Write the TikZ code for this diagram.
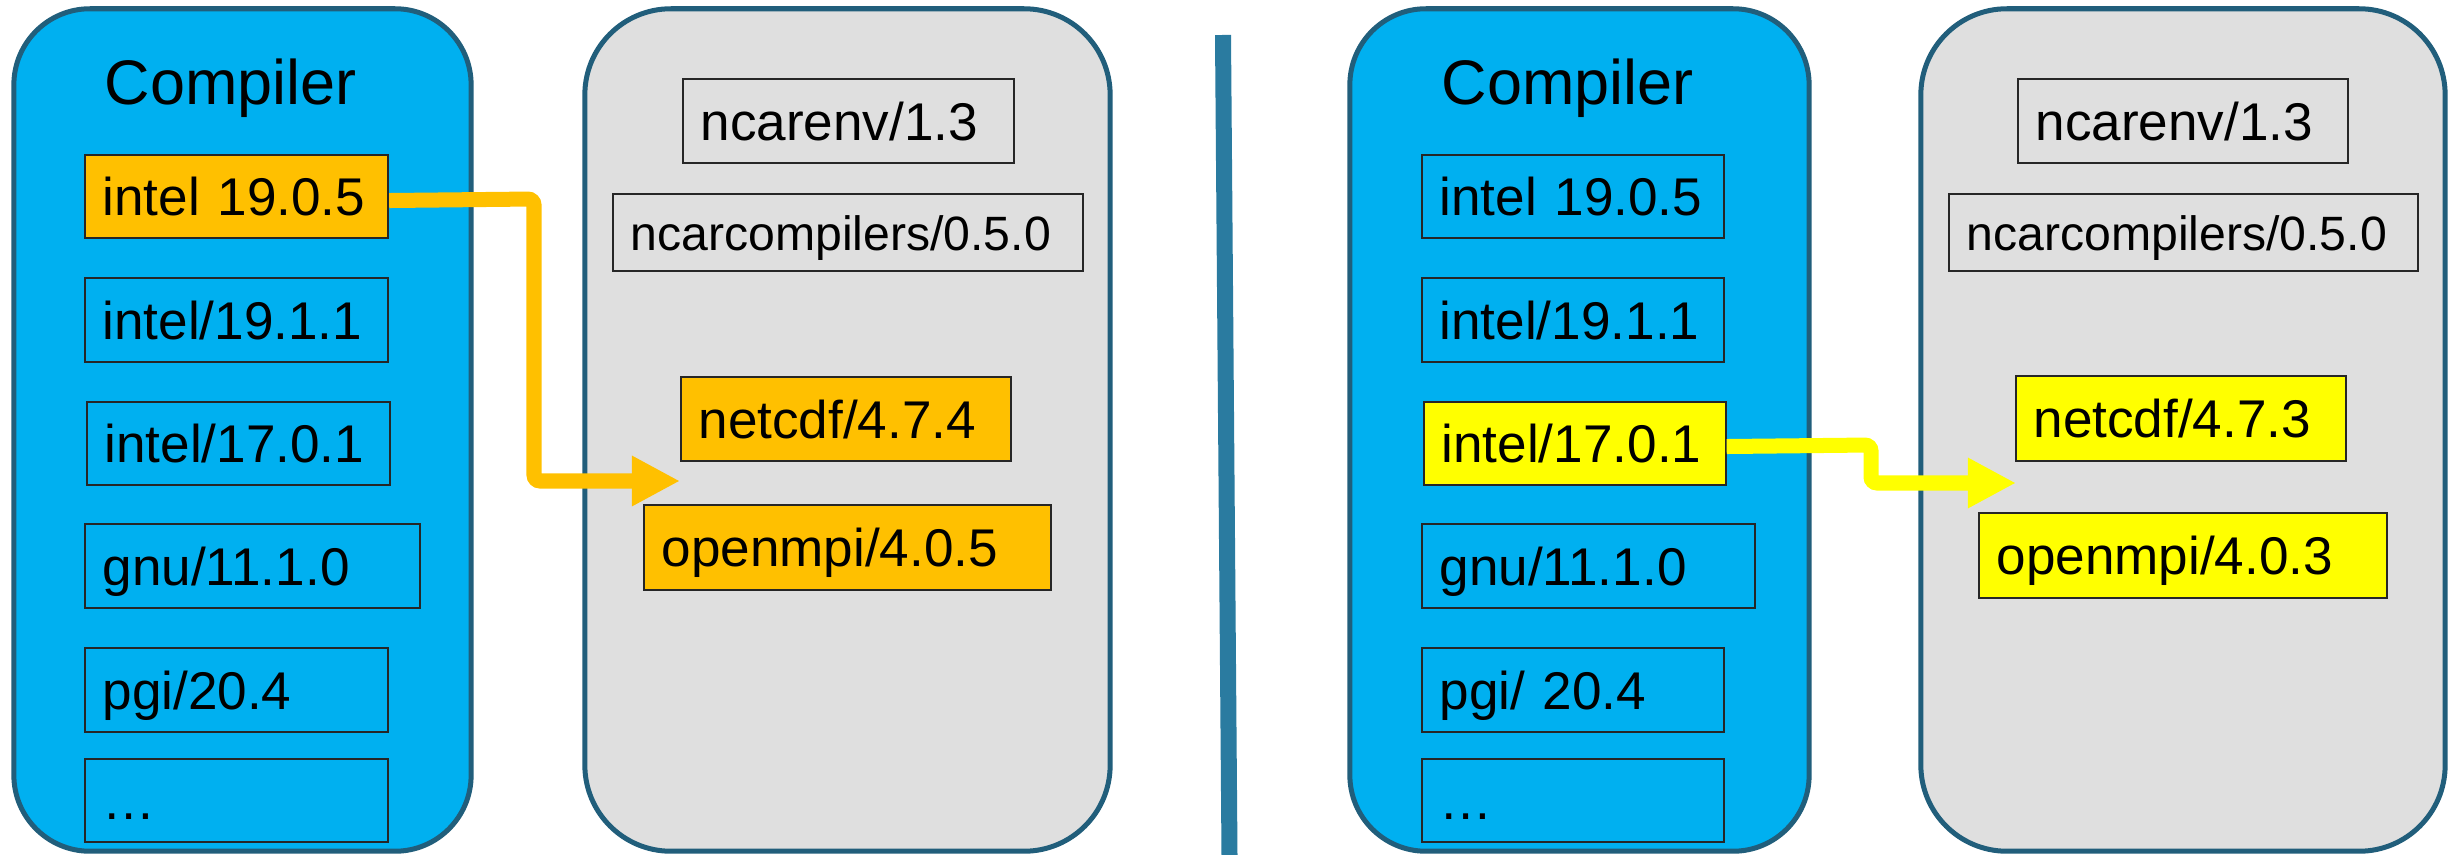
\documentclass[tikz,border=0pt]{standalone}
\usepackage{fontspec}
\setmainfont{Liberation Sans}
\usetikzlibrary{arrows.meta}
\definecolor{cblue}{HTML}{00B0F0}
\definecolor{cgray}{HTML}{DFDFDF}
\definecolor{corange}{HTML}{FFC000}
\definecolor{cyellow}{HTML}{FFFF00}
\definecolor{cborder}{HTML}{215E7B}
\definecolor{cdiv}{HTML}{2A7BA0}
\tikzset{
  panel/.style={draw=cborder, line width=0.05cm, inner sep=0pt},
  bluepanel/.style={panel, fill=cblue, rounded corners=0.76cm},
  graypanel/.style={panel, fill=cgray, rounded corners=0.86cm},
  box/.style={draw=black!85, line width=0.02cm, inner xsep=0.175cm, inner ysep=0pt,
    align=left, text height=0.38cm, text depth=0cm, anchor=north west,
    font=\fontsize{15.1}{18}\selectfont},
  title/.style={anchor=base west, inner sep=0pt, font=\fontsize{17.9}{21}\selectfont},
  arr/.style={line width=0.15cm, rounded corners=0.06cm,
    -{Triangle[length=0.48cm, width=0.47cm]}},
  divider/.style={draw=cdiv, line width=0.16cm}
}
\begin{document}
\begin{tikzpicture}[x=0.01cm, y=-0.01cm]
\useasboundingbox (0,0) rectangle (2453,855);
% panels
\node[bluepanel, minimum width=4.57cm, minimum height=8.42cm] (P1) at (242.5,430) {};
\node[graypanel, minimum width=5.25cm, minimum height=8.42cm] (P2) at (847.5,430) {};
\node[bluepanel, minimum width=4.59cm, minimum height=8.42cm] (P3) at (1579.5,430) {};
\node[graypanel, minimum width=5.24cm, minimum height=8.42cm] (P4) at (2183,430) {};
% divider
\coordinate (D1) at (1223,35);
\coordinate (D2) at (1229.5,855);
\draw[divider] (D1) -- (D2);
% left half
\node[title] (C1) at (104,105) {Compiler};
\node[box, fill=corange, text width=2.68cm, minimum height=0.83cm] (A1) at (84,154) {intel 19.0.5};
\node[box, text width=2.68cm, minimum height=0.84cm] (A2) at (84,277) {intel/19.1.1};
\node[box, text width=2.68cm, minimum height=0.83cm] (A3) at (86,401) {intel/17.0.1};
\node[box, text width=3.00cm, minimum height=0.84cm] (A4) at (84,523) {gnu/11.1.0};
\node[box, text width=2.68cm, minimum height=0.84cm] (A5) at (84,647) {pgi/20.4};
\node[box, text width=2.68cm, minimum height=0.83cm] (A6) at (84,758) {…};
\node[box, text width=2.96cm, minimum height=0.84cm] (B1) at (682,78) {ncarenv/1.3};
\node[box, text width=4.35cm, minimum height=0.77cm, font=\fontsize{13.7}{16}\selectfont, text height=0.35cm] (B2) at (612,193) {ncarcompilers/0.5.0};
\node[box, fill=corange, text width=2.95cm, minimum height=0.84cm] (B3) at (680,376) {netcdf/4.7.4};
\node[box, fill=corange, text width=3.72cm, minimum height=0.85cm] (B4) at (643,504) {openmpi/4.0.5};
% right half
\node[title] (C2) at (1441,105) {Compiler};
\node[box, text width=2.665cm, minimum height=0.83cm] (E1) at (1421,154) {intel 19.0.5};
\node[box, text width=2.665cm, minimum height=0.84cm] (E2) at (1421,277) {intel/19.1.1};
\node[box, fill=cyellow, text width=2.665cm, minimum height=0.83cm] (E3) at (1423,401) {intel/17.0.1};
\node[box, text width=2.98cm, minimum height=0.84cm] (E4) at (1421,523) {gnu/11.1.0};
\node[box, text width=2.665cm, minimum height=0.84cm] (E5) at (1421,647) {pgi/ 20.4};
\node[box, text width=2.665cm, minimum height=0.83cm] (E6) at (1421,758) {…};
\node[box, text width=2.95cm, minimum height=0.84cm] (F1) at (2017,78) {ncarenv/1.3};
\node[box, text width=4.335cm, minimum height=0.77cm, font=\fontsize{13.7}{16}\selectfont, text height=0.35cm] (F2) at (1948,193) {ncarcompilers/0.5.0};
\node[box, fill=cyellow, text width=2.95cm, minimum height=0.85cm] (F3) at (2015,375) {netcdf/4.7.3};
\node[box, fill=cyellow, text width=3.725cm, minimum height=0.85cm] (F4) at (1978,512) {openmpi/4.0.3};
% arrows
\coordinate (T1) at (680,481);
\coordinate (T2) at (2016,483);
\draw[arr, corange] ([yshift=-0.04cm]A1.east) -- (534,199) -- (534,481) -- (T1);
\draw[arr, cyellow] ([yshift=-0.03cm]E3.east) -- (1871,445) -- (1871,483) -- (T2);
\end{tikzpicture}
\end{document}
